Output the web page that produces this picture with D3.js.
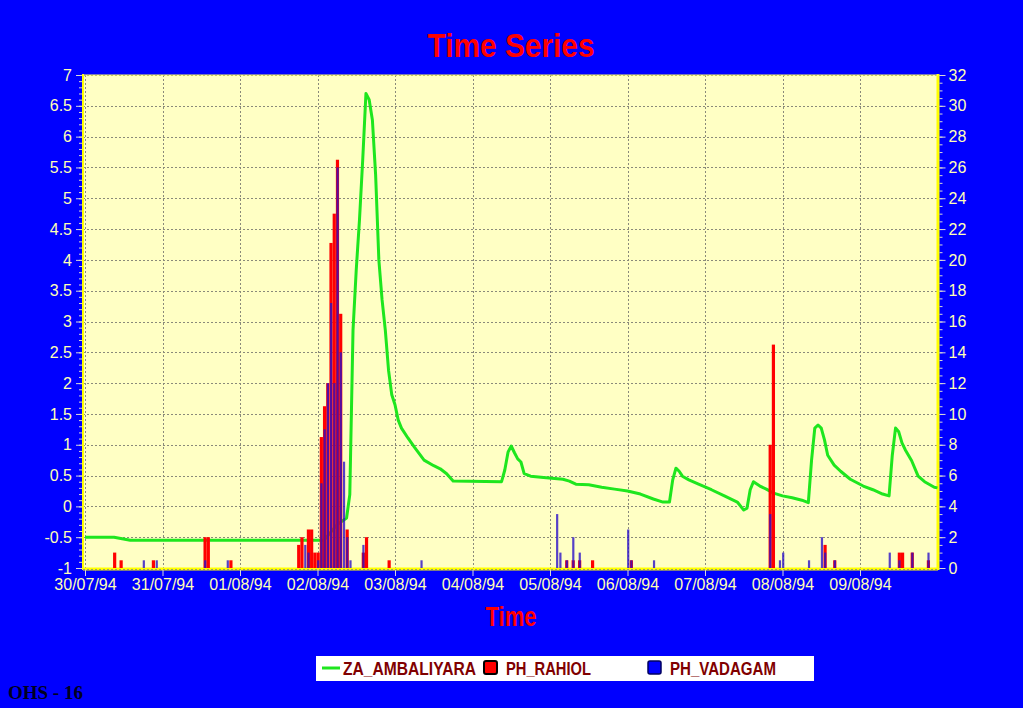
<!DOCTYPE html>
<html><head><meta charset="utf-8">
<script src="https://cdn.jsdelivr.net/npm/d3@7"></script>
<style>html,body{margin:0;padding:0;background:#0000ff;overflow:hidden}svg{display:block}</style>
</head><body>
<svg id="chart" width="1023" height="708"></svg>
<script>
// ---- data ----
const levelTimes = [
 "1994-07-30 00:00","1994-07-30 09:00","1994-07-30 14:00","1994-08-02 02:00","1994-08-02 06:00",
 "1994-08-02 09:00","1994-08-02 10:00","1994-08-02 11:00","1994-08-02 12:00","1994-08-02 13:00",
 "1994-08-02 14:00","1994-08-02 15:00","1994-08-02 16:00","1994-08-02 17:00","1994-08-02 18:00",
 "1994-08-02 19:00","1994-08-02 20:00","1994-08-02 21:00","1994-08-02 22:00","1994-08-02 23:00",
 "1994-08-03 00:00","1994-08-03 01:00","1994-08-03 02:00","1994-08-03 04:00","1994-08-03 06:00",
 "1994-08-03 09:00","1994-08-03 12:00","1994-08-03 14:00","1994-08-03 16:00","1994-08-03 18:00",
 "1994-08-04 09:00","1994-08-04 10:00","1994-08-04 11:00","1994-08-04 12:00","1994-08-04 13:00",
 "1994-08-04 14:00","1994-08-04 15:00","1994-08-04 16:00","1994-08-04 18:00","1994-08-04 22:00",
 "1994-08-05 04:00","1994-08-05 06:00","1994-08-05 08:00","1994-08-05 12:00","1994-08-05 16:00",
 "1994-08-05 20:00","1994-08-06 00:00","1994-08-06 04:00","1994-08-06 08:00","1994-08-06 11:00",
 "1994-08-06 13:00","1994-08-06 14:00","1994-08-06 15:00","1994-08-06 16:00","1994-08-06 17:00",
 "1994-08-06 19:00","1994-08-06 22:00","1994-08-07 02:00","1994-08-07 06:00","1994-08-07 10:00",
 "1994-08-07 12:00","1994-08-07 13:00","1994-08-07 14:00","1994-08-07 15:00","1994-08-07 17:00",
 "1994-08-07 19:00","1994-08-07 21:00","1994-08-08 00:00","1994-08-08 03:00","1994-08-08 06:00",
 "1994-08-08 08:00","1994-08-08 09:00","1994-08-08 10:00","1994-08-08 11:00","1994-08-08 12:00",
 "1994-08-08 13:00","1994-08-08 14:00","1994-08-08 16:00","1994-08-08 18:00","1994-08-08 21:00",
 "1994-08-09 01:00","1994-08-09 04:00","1994-08-09 07:00","1994-08-09 09:00","1994-08-09 10:00",
 "1994-08-09 11:00","1994-08-09 12:00","1994-08-09 13:00","1994-08-09 14:00","1994-08-09 16:00",
 "1994-08-09 18:00","1994-08-09 20:00","1994-08-09 23:00","1994-08-10 00:00"];
const levelValues = [
 -0.50,-0.50,-0.55,-0.55,-0.30,
 -0.19,0.19,2.86,3.84,4.65,
 5.62,6.70,6.60,6.27,5.38,
 4.00,3.35,2.86,2.21,1.81,
 1.65,1.40,1.27,1.11,0.96,
 0.75,0.66,0.61,0.53,0.41,
 0.40,0.59,0.88,0.98,0.87,
 0.77,0.72,0.53,0.49,0.47,
 0.44,0.41,0.36,0.35,0.31,
 0.28,0.25,0.20,0.12,0.07,
 0.07,0.43,0.62,0.57,0.49,
 0.43,0.36,0.27,0.17,0.07,
 -0.06,-0.03,0.27,0.40,0.33,
 0.28,0.22,0.17,0.14,0.10,
 0.06,0.75,1.27,1.32,1.27,
 1.08,0.83,0.67,0.57,0.44,
 0.33,0.27,0.20,0.17,0.83,
 1.27,1.21,1.03,0.92,0.74,
 0.49,0.40,0.31,0.30];

const rahiolTimes = [
 "1994-07-30 09:00","1994-07-30 11:00","1994-07-30 21:00","1994-07-31 13:00","1994-07-31 14:00",
 "1994-07-31 21:00","1994-08-01 18:00","1994-08-01 19:00","1994-08-01 21:00","1994-08-01 22:00",
 "1994-08-01 23:00","1994-08-02 00:00","1994-08-02 01:00","1994-08-02 02:00","1994-08-02 03:00",
 "1994-08-02 04:00","1994-08-02 05:00","1994-08-02 06:00","1994-08-02 07:00","1994-08-02 09:00",
 "1994-08-02 14:00","1994-08-02 15:00","1994-08-02 22:00","1994-08-05 05:00","1994-08-05 07:00",
 "1994-08-05 09:00","1994-08-05 13:00","1994-08-06 01:00","1994-08-07 20:00","1994-08-07 21:00",
 "1994-08-08 13:00","1994-08-08 16:00","1994-08-09 12:00","1994-08-09 13:00","1994-08-09 16:00",
 "1994-08-09 21:00"];
const rahiolValues = [
 1.0,0.5,0.5,2.0,2.0,
 0.5,1.5,2.0,2.5,2.5,
 1.0,1.0,8.5,10.5,12.0,
 21.1,23.0,26.5,16.5,2.5,
 1.0,2.0,0.5,0.5,0.5,
 0.5,0.5,0.5,8.0,14.5,
 1.5,0.5,1.0,1.0,1.0,
 0.5];

const vadagamTimes = [
 "1994-07-30 18:00","1994-07-30 22:00","1994-07-31 13:00","1994-07-31 20:00","1994-08-01 20:00",
 "1994-08-01 21:00","1994-08-02 00:00","1994-08-02 01:00","1994-08-02 02:00","1994-08-02 03:00",
 "1994-08-02 04:00","1994-08-02 05:00","1994-08-02 06:00","1994-08-02 07:00","1994-08-02 08:00",
 "1994-08-02 09:00","1994-08-02 10:00","1994-08-02 14:00","1994-08-03 08:00","1994-08-05 02:00",
 "1994-08-05 03:00","1994-08-05 05:00","1994-08-05 07:00","1994-08-05 09:00","1994-08-06 00:00",
 "1994-08-06 01:00","1994-08-06 08:00","1994-08-07 20:00","1994-08-07 23:00","1994-08-08 00:00",
 "1994-08-08 08:00","1994-08-08 12:00","1994-08-08 13:00","1994-08-08 16:00","1994-08-09 09:00",
 "1994-08-09 12:00","1994-08-09 16:00","1994-08-09 21:00"];
const vadagamValues = [
 0.5,0.5,0.5,0.5,1.5,
 1.0,0.5,5.5,9.0,12.0,
 17.2,12.0,26.0,14.0,6.9,
 2.0,0.5,1.5,0.5,3.5,
 1.0,0.5,2.0,1.0,2.5,
 0.5,0.5,3.5,0.5,1.0,
 0.5,2.0,1.0,0.5,1.0,
 0.5,1.0,1.0];

const dayTicks = ["1994-07-30","1994-07-31","1994-08-01","1994-08-02","1994-08-03","1994-08-04",
                  "1994-08-05","1994-08-06","1994-08-07","1994-08-08","1994-08-09"];
const leftTicks = [-1,-0.5,0,0.5,1,1.5,2,2.5,3,3.5,4,4.5,5,5.5,6,6.5,7];
const rightTicks = [0,2,4,6,8,10,12,14,16,18,20,22,24,26,28,30,32];
const seriesNames = ["ZA_AMBALIYARA","PH_RAHIOL","PH_VADAGAM"];
const titleText = "Time Series";
const xTitle = "Time";
const footText = "OHS - 16";

// ---- layout ----
const L = 83, R = 938, T = 75, B = 568;
const parseT = d3.timeParse("%Y-%m-%d %H:%M");
const parseD = d3.timeParse("%Y-%m-%d");
const x = d3.scaleTime().domain([parseD("1994-07-30"), parseD("1994-08-10")]).range([85, 937.5]);
const yL = d3.scaleLinear().domain([-1, 7]).range([B, T]);
const yR = d3.scaleLinear().domain([0, 32]).range([B, T]);

const svg = d3.select("#chart");
svg.append("rect").attr("width",1023).attr("height",708).attr("fill","#0000ff");

// plot background
svg.append("rect").attr("x",L).attr("y",T).attr("width",R-L).attr("height",B-T).attr("fill","#ffffc4");

// grid
const grid = svg.append("g").attr("stroke","#8a8a7a").attr("stroke-width",1).attr("stroke-dasharray","2,2");
grid.selectAll("line.h").data(leftTicks).join("line")
  .attr("x1",L).attr("x2",R).attr("y1",d=>Math.round(yL(d))+0.5).attr("y2",d=>Math.round(yL(d))+0.5);
grid.selectAll("line.v").data(dayTicks.map(parseD)).join("line")
  .attr("y1",T).attr("y2",B).attr("x1",d=>Math.round(x(d))+0.5).attr("x2",d=>Math.round(x(d))+0.5);

// frame
svg.append("line").attr("x1",L).attr("x2",L).attr("y1",T-1).attr("y2",B+2).attr("stroke","#ffff00").attr("stroke-width",2);
svg.append("line").attr("x1",R).attr("x2",R).attr("y1",T-1).attr("y2",B+2).attr("stroke","#ffff00").attr("stroke-width",3);
svg.append("line").attr("x1",L).attr("x2",R).attr("y1",T).attr("y2",T).attr("stroke","#ffff60").attr("stroke-width",1);
svg.append("line").attr("x1",L).attr("x2",R).attr("y1",B+1).attr("y2",B+1).attr("stroke","#ffff00").attr("stroke-width",3);
svg.append("line").attr("x1",L).attr("x2",R).attr("y1",B+1.5).attr("y2",B+1.5).attr("stroke","#9a9a70").attr("stroke-width",1).attr("stroke-dasharray","2,2");

// green line (behind bars)
const levelData = levelTimes.map((t,i)=>({t:parseT(t), v:levelValues[i]}));
svg.append("path").datum(levelData)
  .attr("fill","none").attr("stroke","#1ee61e").attr("stroke-width",3).attr("stroke-linejoin","round")
  .attr("d", d3.line().x(d=>x(d.t)).y(d=>yL(d.v)));

// bars
const rahiol = rahiolTimes.map((t,i)=>({t:parseT(t), v:rahiolValues[i]}));
const vadagam = vadagamTimes.map((t,i)=>({t:parseT(t), v:vadagamValues[i]}));
svg.append("g").selectAll("rect").data(rahiol).join("rect")
  .attr("x",d=>x(d.t)-1).attr("width",3.2)
  .attr("y",d=>yR(d.v)).attr("height",d=>yR(0)-yR(d.v)).attr("fill","#ff0000");
svg.append("g").selectAll("rect").data(vadagam).join("rect")
  .attr("x",d=>x(d.t)-0.4).attr("width",2.2)
  .attr("y",d=>yR(d.v)).attr("height",d=>yR(0)-yR(d.v)).attr("fill","#2a10c8").attr("fill-opacity",0.8);

// axes
const labelColor = "#ffffb4", tickColor = "#d8d8d8";
const font = "'Liberation Sans', Arial, sans-serif";
function styleAxis(g){
  g.select(".domain").remove();
  g.selectAll(".tick line").attr("stroke",tickColor).attr("stroke-width",1);
  g.selectAll(".tick text").attr("fill",labelColor).style("font-family",font).style("font-size","16px");
}
const leftMinor = d3.range(-1, 7.001, 0.1);
svg.append("g").attr("transform",`translate(${L-1},0)`)
  .call(d3.axisLeft(yL).tickValues(leftMinor).tickSize(3).tickFormat(""))
  .call(styleAxis);
svg.append("g").attr("transform",`translate(${L-1},0)`)
  .call(d3.axisLeft(yL).tickValues(leftTicks).tickSize(6).tickPadding(4).tickFormat(d=>String(d)))
  .call(styleAxis);
const rightMinor = d3.range(0, 32.001, 0.5);
svg.append("g").attr("transform",`translate(${R+1.5},0)`)
  .call(d3.axisRight(yR).tickValues(rightMinor).tickSize(3).tickFormat(""))
  .call(styleAxis);
svg.append("g").attr("transform",`translate(${R+1.5},0)`)
  .call(d3.axisRight(yR).tickValues(rightTicks).tickSize(6).tickPadding(3).tickFormat(d=>String(d)))
  .call(styleAxis);
const fmt = d3.timeFormat("%d/%m/%y");
svg.append("g").attr("transform",`translate(0,${B+2})`)
  .call(d3.axisBottom(x).tickValues(dayTicks.map(parseD)).tickSize(6).tickPadding(3).tickFormat(fmt))
  .call(styleAxis);

// titles
svg.append("text").attr("x",511).attr("y",57).attr("text-anchor","middle")
  .attr("textLength",167).attr("lengthAdjust","spacingAndGlyphs")
  .style("font-family",font).style("font-weight","bold").style("font-size","34px")
  .attr("fill","#ff0000").text(titleText);
svg.append("text").attr("x",511).attr("y",626).attr("text-anchor","middle")
  .attr("textLength",51).attr("lengthAdjust","spacingAndGlyphs")
  .style("font-family",font).style("font-weight","bold").style("font-size","28px")
  .attr("fill","#ff0000").text(xTitle);

// legend
const lg = svg.append("g");
lg.append("rect").attr("x",316).attr("y",656).attr("width",498).attr("height",25).attr("fill","#ffffff");
lg.append("line").attr("x1",322).attr("x2",340).attr("y1",668).attr("y2",668).attr("stroke","#1ee61e").attr("stroke-width",3);
lg.append("rect").attr("x",484).attr("y",661).attr("width",13).attr("height",13).attr("rx",2)
  .attr("fill","#ff0000").attr("stroke","#000000").attr("stroke-width",2);
lg.append("rect").attr("x",648).attr("y",661).attr("width",13).attr("height",13).attr("rx",2)
  .attr("fill","#0000ff").attr("stroke","#000060").attr("stroke-width",1.5);
const legText = [[343,133],[506,85],[670,106]];
lg.selectAll("text").data(seriesNames).join("text")
  .attr("x",(d,i)=>legText[i][0]).attr("y",675)
  .attr("textLength",(d,i)=>legText[i][1]).attr("lengthAdjust","spacingAndGlyphs")
  .style("font-family",font).style("font-weight","bold").style("font-size","18px")
  .attr("fill","#800000").text(d=>d);

// footer
svg.append("text").attr("x",8).attr("y",699)
  .style("font-family","'Liberation Serif','Times New Roman',serif").style("font-weight","bold").style("font-size","19px")
  .attr("fill","#000020").text(footText);
</script>
</body></html>
